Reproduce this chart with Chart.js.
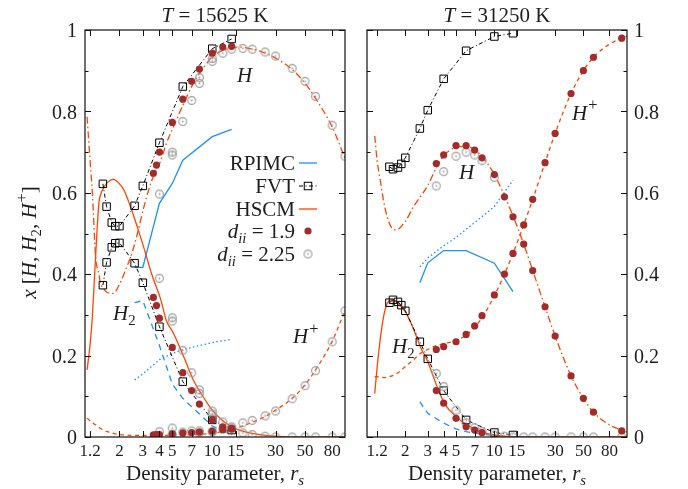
<!DOCTYPE html>
<html><head><meta charset="utf-8">
<script src="https://cdn.jsdelivr.net/npm/chart.js@4.4.0/dist/chart.umd.min.js"></script>
<style>
html,body{margin:0;padding:0;background:#fff;}
#wrap{position:relative;width:688px;height:489px;overflow:hidden;background:#fff;}
#cL{position:absolute;left:0;top:0;}
#cR{position:absolute;left:356px;top:0;}
</style></head>
<body><div id="wrap"><canvas id="cL" width="356" height="489"></canvas><canvas id="cR" width="332" height="489"></canvas></div>
<script>
// ---------- axis ticks ----------
const xTicks = [1.2, 2, 3, 4, 5, 7, 10, 15, 30, 50, 80];
const xTickLabels = ['1.2', '2', '3', '4', '5', '7', '10', '15', '30', '50', '80'];
const yTicks = [0, 0.2, 0.4, 0.6, 0.8, 1];
const yTickLabels = ['0', '0.2', '0.4', '0.6', '0.8', '1'];
const yMinorTicks = [0.1, 0.3, 0.5, 0.7, 0.9];

// ---------- T = 15625 K ----------
const rpimcRs = [2.6, 3, 4, 5, 6, 10, 14];
const rpimcH_A = [0.417, 0.417, 0.574, 0.623, 0.68, 0.738, 0.756];
const rpimcH2_A = [0.33, 0.335, 0.225, 0.13, 0.095, 0.027, 0.005];
const rpimcHp_A = [0.14, 0.155, 0.19, 0.205, 0.215, 0.232, 0.24];

const fvtRs = [1.5, 1.6, 1.75, 1.86, 2, 2.6, 3, 4, 6, 10, 14];
const fvtH_A = [0.622, 0.566, 0.527, 0.518, 0.518, 0.568, 0.617, 0.723, 0.861, 0.954, 0.978];
const fvtH2_A = [0.373, 0.429, 0.466, 0.476, 0.477, 0.427, 0.379, 0.271, 0.136, 0.042, 0.017];

const hscmRs_A = [1.14, 1.2, 1.25, 1.32, 1.4, 1.44, 1.54, 1.62, 1.8, 2.0, 2.16, 2.5, 2.73, 3.06, 3.5, 4.1, 4.5, 5.1, 6.1, 7.2, 8.5, 10, 12, 13.6, 16, 20, 25, 30, 40, 50, 60, 80, 100];
const hscmH_A = [0.787, 0.681, 0.60, 0.445, 0.40, 0.378, 0.362, 0.355, 0.353, 0.375, 0.40, 0.455, 0.50, 0.566, 0.63, 0.68, 0.72, 0.762, 0.82, 0.869, 0.905, 0.934, 0.95, 0.955, 0.958, 0.953, 0.943, 0.931, 0.903, 0.869, 0.832, 0.762, 0.685];
const hscmH2_A = [0.165, 0.225, 0.296, 0.44, 0.575, 0.595, 0.615, 0.625, 0.633, 0.622, 0.607, 0.553, 0.515, 0.464, 0.40, 0.337, 0.287, 0.255, 0.197, 0.14, 0.10, 0.066, 0.04, 0.028, 0.017, 0.009, 0.004, 0.002, 0, 0, 0, 0, 0];
const hscmHp_A = [0.046, 0.04, 0.035, 0.03, 0.024, 0.021, 0.016, 0.013, 0.009, 0.006, 0.005, 0.004, 0.004, 0.004, 0.004, 0.004, 0.004, 0.005, 0.005, 0.006, 0.007, 0.009, 0.013, 0.017, 0.024, 0.036, 0.05, 0.066, 0.095, 0.128, 0.165, 0.235, 0.31];

const d19Rs_A = [3.6, 3.8, 4, 5, 6, 7, 8, 10, 12, 14];
const d19H_A = [0.648, 0.668, 0.70, 0.773, 0.83, 0.874, 0.904, 0.943, 0.958, 0.96];
const d19H2_A = [0.343, 0.323, 0.292, 0.22, 0.158, 0.114, 0.081, 0.042, 0.025, 0.019];
const d19Hp_A = [0.005, 0.006, 0.006, 0.008, 0.01, 0.011, 0.012, 0.014, 0.018, 0.021];

const d225Rs_A = [4, 5, 5, 6, 7, 8, 8, 10, 10, 12, 14, 17, 20, 25, 30, 40, 50, 60, 80, 100];
const d225H_A = [0.597, 0.70, 0.693, 0.775, 0.827, 0.869, 0.883, 0.923, 0.93, 0.943, 0.953, 0.955, 0.953, 0.946, 0.936, 0.906, 0.874, 0.837, 0.766, 0.69];
const d225H2_A = [0.39, 0.293, 0.285, 0.213, 0.158, 0.116, 0.107, 0.064, 0.057, 0.037, 0.025, 0.01, 0.006, 0.002, 0, 0, 0, 0, 0, 0];
const d225Hp_A = [0.013, 0.007, 0.022, 0.012, 0.015, 0.015, 0.01, 0.013, 0.013, 0.02, 0.022, 0.035, 0.041, 0.052, 0.064, 0.094, 0.126, 0.163, 0.234, 0.31];

// ---------- T = 31250 K ----------
const rpimcH_B = [0.379, 0.428, 0.458, 0.458, 0.458, 0.427, 0.357];
const rpimcH2_B = [0.087, 0.058, 0.034, 0.02, 0.013, 0.003, 0.001];
const rpimcHp_B = [0.418, 0.44, 0.47, 0.49, 0.51, 0.566, 0.631];

const fvtH_B = [0.664, 0.658, 0.662, 0.671, 0.686, 0.758, 0.803, 0.88, 0.949, 0.984, 0.992];
const fvtH2_B = [0.33, 0.337, 0.332, 0.324, 0.31, 0.234, 0.192, 0.114, 0.042, 0.011, 0.005];

const hscmRs_B = [1.15, 1.2, 1.27, 1.35, 1.44, 1.57, 1.7, 2.0, 2.32, 2.62, 3.0, 3.54, 4.1, 5.1, 6.1, 7.1, 8.2, 10, 12, 14, 17, 20, 25, 30, 40, 50, 60, 80, 110];
const hscmH_B = [0.74, 0.68, 0.631, 0.58, 0.541, 0.513, 0.509, 0.53, 0.566, 0.59, 0.618, 0.665, 0.695, 0.712, 0.714, 0.705, 0.685, 0.645, 0.593, 0.543, 0.474, 0.409, 0.32, 0.248, 0.15, 0.095, 0.061, 0.03, 0.012];
const hscmH2_B = [0.107, 0.17, 0.24, 0.296, 0.328, 0.337, 0.332, 0.308, 0.265, 0.222, 0.185, 0.125, 0.08, 0.048, 0.03, 0.018, 0.011, 0.005, 0.002, 0.001, 0, 0, 0, 0, 0, 0, 0, 0, 0];
const hscmHp_B = [0.148, 0.148, 0.147, 0.146, 0.147, 0.15, 0.155, 0.173, 0.19, 0.205, 0.215, 0.225, 0.23, 0.238, 0.252, 0.272, 0.298, 0.347, 0.40, 0.451, 0.521, 0.584, 0.674, 0.746, 0.844, 0.90, 0.933, 0.965, 0.985];

const d19Rs_B = [3.5, 4, 5, 6, 7, 8, 10, 12, 14, 17, 20, 25, 30, 40, 50, 60, 100];
const d19H_B = [0.672, 0.693, 0.716, 0.716, 0.705, 0.686, 0.645, 0.59, 0.541, 0.474, 0.409, 0.32, 0.248, 0.15, 0.095, 0.061, 0.015];
const d19H2_B = [0.114, 0.083, 0.046, 0.025, 0.017, 0.011, null, null, null, null, null, null, null, null, null, null, null];
const d19Hp_B = [0.215, 0.222, 0.234, 0.252, 0.273, 0.298, 0.349, 0.40, 0.451, 0.521, 0.584, 0.674, 0.746, 0.844, 0.90, 0.933, 0.98];

const d225Rs_B = [3.5, 4, 5, 6, 7, 8, 10, 12, 14, 17, 20, 25, 30, 40, 50, 60, 100];
const d225H_B = [0.617, 0.652, 0.69, 0.70, 0.693, 0.679, 0.638, null, null, null, null, null, null, null, null, null, null];
const d225H2_B = [0.156, 0.124, 0.066, 0.035, 0.023, 0.013, 0.005, 0.002, 0, 0, 0, 0, 0, 0, 0, 0, 0];

// ---------- styling ----------
const SERIF = '"Liberation Serif", "Times New Roman", Times, serif';
const C_RPIMC = '#1e90ff';
const C_HSCM = '#ff4500';
const C_D19 = '#a52a2a';
const C_D225 = '#9a9a9a';
const C_TEXT = '#1e1e1e';

Chart.defaults.font.family = SERIF;
Chart.defaults.color = C_TEXT;

function makeRing() {
  const c = document.createElement('canvas');
  c.width = 11; c.height = 11;
  const g = c.getContext('2d');
  g.strokeStyle = C_D225; g.lineWidth = 1.1;
  g.beginPath(); g.arc(5.5, 5.5, 3.9, 0, Math.PI * 2); g.stroke();
  g.fillStyle = C_D225;
  g.beginPath(); g.arc(5.5, 5.5, 0.9, 0, Math.PI * 2); g.fill();
  return c;
}
const ringImg = makeRing();

function fnt(size, it) { return (it ? 'italic ' : '') + size + 'px ' + SERIF; }
function segSize(s, size) { return s.sub ? size * 0.7 : (s.sup ? size * 0.78 : size); }
function richWidth(ctx, segs, size) {
  let w = 0;
  for (const s of segs) {
    ctx.font = fnt(segSize(s, size), s.it);
    w += ctx.measureText(s.t).width;
  }
  return w;
}
function drawRich(ctx, segs, x, y, size, align) {
  const w = richWidth(ctx, segs, size);
  let cx = align === 'center' ? x - w / 2 : (align === 'right' ? x - w : x);
  ctx.textAlign = 'left';
  ctx.textBaseline = 'alphabetic';
  for (const s of segs) {
    ctx.font = fnt(segSize(s, size), s.it);
    const dy = s.sub ? size * 0.22 : (s.sup ? -size * 0.45 : 0);
    ctx.fillText(s.t, cx + (s.sup ? 1 : 0), y + dy);
    cx += ctx.measureText(s.t).width + (s.sup ? 1 : 0);
  }
}

function pts(xs, ys) { return xs.map((x, i) => ({ x: x, y: ys[i] })); }

function buildDatasets(d) {
  const curve = (ys, xs, color, dash, width, order, mono) => ({
    data: pts(xs, ys), borderColor: color, borderWidth: width, borderDash: dash,
    pointRadius: 0, fill: false, order: order, tension: 0,
    cubicInterpolationMode: mono ? 'monotone' : 'default'
  });
  const ds = [];
  // RPIMC
  ds.push(curve(d.rpimcH, rpimcRs, C_RPIMC, [], 1.3, 5, false));
  ds.push(curve(d.rpimcH2, rpimcRs, C_RPIMC, [6, 5], 1.3, 5, false));
  ds.push(curve(d.rpimcHp, rpimcRs, C_RPIMC, [1.5, 2.5], 1.3, 5, false));
  // HSCM
  ds.push(curve(d.hscmH, d.hscmRs, C_HSCM, [7, 3, 1.5, 3], 1.3, 4, true));
  ds.push(curve(d.hscmH2, d.hscmRs, C_HSCM, [], 1.3, 4, true));
  ds.push(curve(d.hscmHp, d.hscmRs, C_HSCM, [4, 3.5], 1.3, 4, true));
  // FVT
  for (const ys of [d.fvtH, d.fvtH2]) {
    ds.push({
      data: pts(fvtRs, ys), borderColor: '#000', borderWidth: 1, borderDash: [4, 2.5, 1, 2.5],
      pointStyle: 'rect', pointRadius: 5.3, pointBorderColor: '#000', pointBorderWidth: 1,
      pointBackgroundColor: 'rgba(255,255,255,0)', fill: false, tension: 0, order: 3
    });
  }
  // d_ii = 2.25
  for (const ys of d.d225) {
    ds.push({
      data: pts(d.d225Rs, ys), showLine: false, pointStyle: ringImg, pointRadius: 4, order: 2
    });
  }
  // d_ii = 1.9
  for (const ys of d.d19) {
    ds.push({
      data: pts(d.d19Rs, ys), showLine: false, pointStyle: 'circle', pointRadius: 3.6,
      pointBackgroundColor: C_D19, pointBorderColor: C_D19, pointBorderWidth: 0, order: 1
    });
  }
  return ds;
}

function panelPlugin(p) {
  return {
    id: 'panel' + p.name,
    afterDraw(chart) {
      const ctx = chart.ctx, a = chart.chartArea;
      const xs = chart.scales.x, ys = chart.scales.y;
      ctx.save();
      // frame
      ctx.strokeStyle = '#111';
      ctx.lineWidth = 1.2;
      ctx.setLineDash([]);
      ctx.strokeRect(a.left, a.top, a.right - a.left, a.bottom - a.top);
      // inward ticks
      ctx.lineWidth = 1;
      ctx.beginPath();
      for (const v of xTicks) {
        const px = Math.round(xs.getPixelForValue(v)) + 0.5;
        ctx.moveTo(px, a.bottom); ctx.lineTo(px, a.bottom - 6);
        ctx.moveTo(px, a.top); ctx.lineTo(px, a.top + 6);
      }
      for (const v of yTicks) {
        const py = Math.round(ys.getPixelForValue(v)) + 0.5;
        ctx.moveTo(a.left, py); ctx.lineTo(a.left + 6, py);
        ctx.moveTo(a.right, py); ctx.lineTo(a.right - 6, py);
      }
      for (const v of yMinorTicks) {
        const py = Math.round(ys.getPixelForValue(v)) + 0.5;
        ctx.moveTo(a.left, py); ctx.lineTo(a.left + 3.5, py);
        ctx.moveTo(a.right, py); ctx.lineTo(a.right - 3.5, py);
      }
      ctx.stroke();
      ctx.fillStyle = C_TEXT;
      const cx = (a.left + a.right) / 2;
      // title
      drawRich(ctx, [{ t: 'T', it: true }, { t: ' = ' + p.temp + ' K' }], cx, 21.5, 21, 'center');
      // x axis title
      drawRich(ctx, [{ t: 'Density parameter, ' }, { t: 'r', it: true }, { t: 's', it: true, sub: true }], cx, 480, 21, 'center');
      // curve annotations
      for (const an of p.notes) {
        const segs = [{ t: 'H', it: true }];
        if (an.sub) segs.push({ t: an.sub, sub: true });
        if (an.sup) segs.push({ t: an.sup, sup: true });
        drawRich(ctx, segs, an.x, an.y, 21, 'left');
      }
      // y axis title
      if (p.ytitle) {
        ctx.save();
        ctx.translate(36, 243);
        ctx.rotate(-Math.PI / 2);
        drawRich(ctx, [{ t: 'x', it: true }, { t: ' [' }, { t: 'H', it: true }, { t: ', ' },
          { t: 'H', it: true }, { t: '2', sub: true }, { t: ', ' }, { t: 'H', it: true },
          { t: '+', sup: true }, { t: ']' }], 0, 0, 21, 'center');
        ctx.restore();
      }
      // legend
      if (p.legend) {
        const tx = 295, x0 = 299, x1 = 317, xm = 308;
        const rows = [
          { segs: [{ t: 'RPIMC' }], base: 170, kind: 'line', color: C_RPIMC },
          { segs: [{ t: 'FVT' }], base: 193, kind: 'fvt' },
          { segs: [{ t: 'HSCM' }], base: 216, kind: 'line', color: C_HSCM },
          { segs: [{ t: 'd', it: true }, { t: 'ii', it: true, sub: true }, { t: ' = 1.9' }], base: 238, kind: 'dot' },
          { segs: [{ t: 'd', it: true }, { t: 'ii', it: true, sub: true }, { t: ' = 2.25' }], base: 261, kind: 'ring' }
        ];
        for (const r of rows) {
          ctx.fillStyle = C_TEXT;
          drawRich(ctx, r.segs, tx, r.base, 21, 'right');
          const y = r.base - 7;
          if (r.kind === 'line') {
            ctx.strokeStyle = r.color; ctx.lineWidth = 1.3; ctx.setLineDash([]);
            ctx.beginPath(); ctx.moveTo(x0, y); ctx.lineTo(x1, y); ctx.stroke();
          } else if (r.kind === 'fvt') {
            ctx.strokeStyle = '#000'; ctx.lineWidth = 1; ctx.setLineDash([4, 2.5, 1, 2.5]);
            ctx.beginPath(); ctx.moveTo(x0, y); ctx.lineTo(x1, y); ctx.stroke();
            ctx.setLineDash([]);
            ctx.strokeRect(xm - 3.75, y - 3.75, 7.5, 7.5);
          } else if (r.kind === 'dot') {
            ctx.fillStyle = C_D19;
            ctx.beginPath(); ctx.arc(xm, y, 3.6, 0, Math.PI * 2); ctx.fill();
          } else {
            ctx.drawImage(ringImg, xm - 5.5, y - 5.5);
          }
        }
      }
      ctx.restore();
    }
  };
}

function makeChart(canvasId, d, p) {
  const isLeft = p.side === 'left';
  return new Chart(document.getElementById(canvasId), {
    type: 'line',
    data: { datasets: buildDatasets(d) },
    options: {
      responsive: false,
      animation: false,
      events: [],
      layout: { padding: isLeft ? { left: 0, top: 30, right: 11, bottom: 0 } : { left: 11, top: 30, right: 0, bottom: 0 } },
      plugins: { legend: { display: false }, tooltip: { enabled: false }, title: { display: false } },
      scales: {
        x: {
          type: 'logarithmic', min: p.xmin, max: p.xmax,
          afterBuildTicks: (s) => { s.ticks = xTicks.map(v => ({ value: v })); },
          afterFit: (s) => { s.height = 52; },
          ticks: {
            autoSkip: false, maxRotation: 0, minRotation: 0, padding: 4,
            font: { size: 17, family: SERIF }, color: C_TEXT,
            callback: (v, i) => xTickLabels[i]
          },
          grid: { display: false, drawTicks: false },
          border: { display: false }
        },
        y: {
          type: 'linear', min: 0, max: 1, position: isLeft ? 'left' : 'right',
          afterBuildTicks: (s) => { s.ticks = yTicks.map(v => ({ value: v })); },
          afterFit: (s) => { s.width = isLeft ? 85 : 61; },
          ticks: {
            padding: isLeft ? 8 : 7, labelOffset: 2, font: { size: 20, family: SERIF }, color: C_TEXT,
            callback: (v, i) => yTickLabels[i]
          },
          grid: { display: false, drawTicks: false },
          border: { display: false }
        }
      }
    },
    plugins: [panelPlugin(p)]
  });
}

makeChart('cL', {
  rpimcH: rpimcH_A, rpimcH2: rpimcH2_A, rpimcHp: rpimcHp_A,
  hscmRs: hscmRs_A, hscmH: hscmH_A, hscmH2: hscmH2_A, hscmHp: hscmHp_A,
  fvtH: fvtH_A, fvtH2: fvtH2_A,
  d19Rs: d19Rs_A, d19: [d19H_A, d19H2_A, d19Hp_A],
  d225Rs: d225Rs_A, d225: [d225H_A, d225H2_A, d225Hp_A]
}, {
  name: 'A', side: 'left', xmin: 1.1, xmax: 100, temp: '15625', ytitle: true, legend: true,
  notes: [
    { x: 237, y: 81.5 },
    { x: 113, y: 320, sub: '2' },
    { x: 293, y: 343, sup: '+' }
  ]
});

makeChart('cR', {
  rpimcH: rpimcH_B, rpimcH2: rpimcH2_B, rpimcHp: rpimcHp_B,
  hscmRs: hscmRs_B, hscmH: hscmH_B, hscmH2: hscmH2_B, hscmHp: hscmHp_B,
  fvtH: fvtH_B, fvtH2: fvtH2_B,
  d19Rs: d19Rs_B, d19: [d19H_B, d19H2_B, d19Hp_B],
  d225Rs: d225Rs_B, d225: [d225H_B, d225H2_B]
}, {
  name: 'B', side: 'right', xmin: 1.0, xmax: 110, temp: '31250', ytitle: false, legend: false,
  notes: [
    { x: 103, y: 179 },
    { x: 36, y: 353, sub: '2' },
    { x: 216, y: 119.5, sup: '+' }
  ]
});
</script></body></html>
